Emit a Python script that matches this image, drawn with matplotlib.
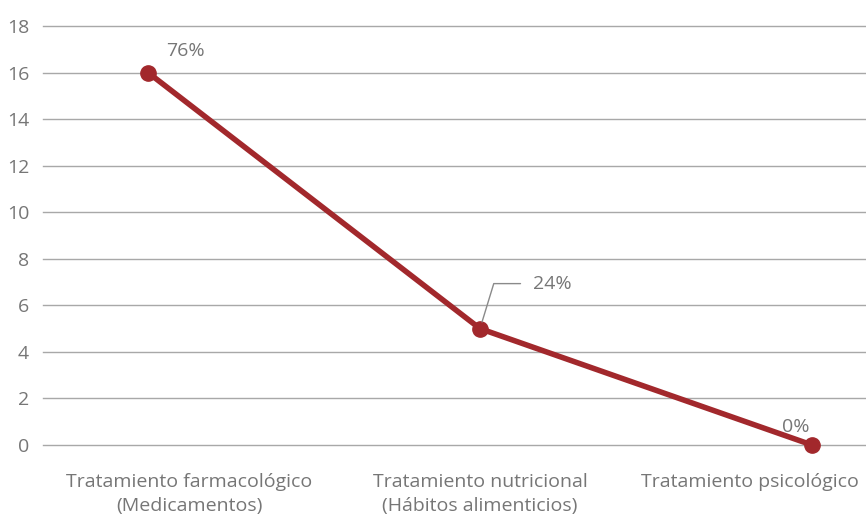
import matplotlib
matplotlib.use("Agg")
import matplotlib.pyplot as plt

categories = ["Tratamiento farmacológico\n(Medicamentos)",
              "Tratamiento nutricional\n(Hábitos alimenticios)",
              "Tratamiento psicológico"]
values = [16, 5, 0]
pct_labels = ["76%", "24%", "0%"]
yticks = [0, 2, 4, 6, 8, 10, 12, 14, 16, 18]

RED = "#A2282C"
TXT = "#767676"
GRID = "#a8a8a8"
FS = 14

plt.rcParams["font.family"] = ["Open Sans", "DejaVu Sans"]

fig = plt.figure(figsize=(8.66, 5.17), dpi=100)
ax = fig.add_axes([43 / 866, 1 - 445 / 517, 1 - 43 / 866, (445 - 26) / 517])

x = list(range(len(categories)))
ax.plot(x, values, color=RED, lw=4, marker="o", ms=11, solid_capstyle="round",
        zorder=3, clip_on=False)

ax.set_ylim(0, 18)
ax.set_xlim(-(148 - 43) / 332, (866 - 148) / 332)
ax.set_yticks(yticks)
ax.set_xticks([])
ax.grid(axis="y", color=GRID, lw=1)
for gl in ax.get_ygridlines():
    gl.set_clip_on(False)
ax.set_axisbelow(True)
for s in ax.spines.values():
    s.set_visible(False)
ax.tick_params(axis="y", length=0, labelsize=FS, labelcolor=TXT, pad=10)

# category labels (Excel nudges the outer ones inward)
label_x = [x[0] + 41 / 332, x[1], x[2] - 62 / 332]
for lx, cat in zip(label_x, categories):
    ax.annotate(cat, (lx, 0), xycoords=("data", "axes fraction"),
                xytext=(0, -28), textcoords="offset pixels",
                ha="center", va="top", fontsize=FS, color=TXT,
                linespacing=1.4, annotation_clip=False)

# data labels
ax.annotate(pct_labels[0], (x[0], values[0]), xytext=(37, 22), textcoords="offset pixels",
            ha="center", va="center", fontsize=FS, color=TXT)
ax.annotate(pct_labels[1], (x[1], values[1]), xytext=(53, 45), textcoords="offset pixels",
            ha="left", va="center", fontsize=FS, color=TXT,
            arrowprops=dict(arrowstyle="-", color="#8a8a8a", lw=1,
                            connectionstyle="angle,angleA=0,angleB=73,rad=0",
                            shrinkA=7, shrinkB=5))
ax.annotate(pct_labels[2], (x[2], values[2]), xytext=(-16, 18), textcoords="offset pixels",
            ha="center", va="center", fontsize=FS, color=TXT)

fig.savefig("out.png", dpi=100)
